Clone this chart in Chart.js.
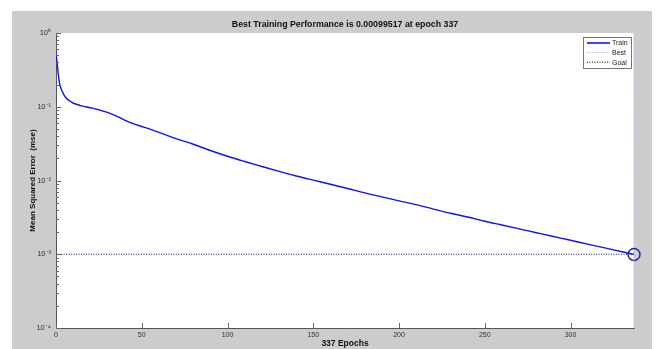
<!DOCTYPE html>
<html><head><meta charset="utf-8">
<script src="https://cdn.jsdelivr.net/npm/chart.js@4.4.1/dist/chart.umd.min.js"></script>
<style>
html,body{margin:0;padding:0;background:#fff;width:668px;height:349px;overflow:hidden}
#panel{position:absolute;left:12px;top:11px;width:640px;height:338px;background:#cccccc}
#c{position:absolute;left:0;top:0}
</style></head>
<body>
<div id="panel"><canvas id="c" width="640" height="338"></canvas></div>
<script>
// ---- data ----
const epochs = [0,1,2,3,4,5,6,8,10,12,15,20,25,30,35,40,45,50,60,70,80,90,100,110,120,130,140,150,160,170,180,190,200,210,220,230,240,250,260,270,280,290,300,310,320,330,337];
const mse    = [0.52,0.33,0.21,0.175,0.155,0.14,0.13,0.12,0.112,0.108,0.103,0.097,0.091,0.084,0.075,0.066,0.059,0.054,0.045,0.037,0.031,0.0255,0.0213,0.0181,0.0155,0.0133,0.0115,0.0101,0.0089,0.0078,0.0068,0.006,0.0053,0.0047,0.0041,0.0036,0.0032,0.0028,0.00249,0.00221,0.00196,0.00174,0.00155,0.00137,0.00122,0.00108,0.00099517];
const bestEpoch = 337;
const bestPerf = 0.00099517;
const goalValue = 0.001;
const xTickValues = [0,50,100,150,200,250,300];
const yMajorValues = [1e-4,1e-3,1e-2,1e-1,1];
const yTickLabels = ['10\u207B\u2074','10\u207B\u00B3','10\u207B\u00B2','10\u207B\u00B9','10\u2070'];
const titleText = 'Best Training Performance is 0.00099517 at epoch 337';
const xTitle = '337 Epochs';
const yTitle = 'Mean Squared Error  (mse)';
const seriesNames = ['Train','Best','Goal'];

const FONT = "'Liberation Sans', Arial, sans-serif";

function isMajor(v){ return yMajorValues.findIndex(m => Math.abs(v/m - 1) < 1e-6); }

const deco = {
  id:'deco',
  beforeDraw(chart){
    const {ctx, chartArea:a} = chart;
    ctx.save(); ctx.fillStyle='#fff'; ctx.fillRect(a.left,a.top,a.right-a.left,a.bottom-a.top); ctx.restore();
  },
  afterDraw(chart){
    const {ctx, chartArea:a, scales} = chart;
    ctx.save();
    // inward ticks
    ctx.strokeStyle='#666'; ctx.lineWidth=1;
    scales.y.ticks.forEach(t=>{
      const p = Math.round(scales.y.getPixelForValue(t.value))+0.5;
      const len = isMajor(t.value)>=0 ? 5 : 3;
      ctx.beginPath(); ctx.moveTo(a.left,p); ctx.lineTo(a.left+len,p); ctx.stroke();
    });
    scales.x.ticks.forEach(t=>{
      const p = Math.round(scales.x.getPixelForValue(t.value))+0.5;
      ctx.beginPath(); ctx.moveTo(p,a.bottom); ctx.lineTo(p,a.bottom-5); ctx.stroke();
    });
    // title
    ctx.fillStyle='#111'; ctx.font='bold 8.8px '+FONT; ctx.textAlign='center'; ctx.textBaseline='middle';
    ctx.fillText(titleText,(a.left+a.right)/2,13.5);
    // legend
    const w=48,h=31, x0=a.right-3-w, y0=a.top+4;
    ctx.fillStyle='#fff'; ctx.fillRect(x0,y0,w,h);
    ctx.strokeStyle='#777'; ctx.lineWidth=1; ctx.strokeRect(x0+0.5,y0+0.5,w,h);
    const styles=[{c:'#0000ff',d:[],lw:1.5},{c:'#9a9aff',d:[1,1.5],lw:1},{c:'#000',d:[1,1.5],lw:1}];
    ctx.font='7px '+FONT; ctx.textAlign='left'; ctx.textBaseline='middle';
    seriesNames.forEach((n,i)=>{
      const yy = y0+6+i*9.6;
      ctx.strokeStyle=styles[i].c; ctx.lineWidth=styles[i].lw; ctx.setLineDash(styles[i].d);
      ctx.beginPath(); ctx.moveTo(x0+4,yy); ctx.lineTo(x0+27,yy); ctx.stroke();
      ctx.setLineDash([]);
      ctx.fillStyle='#222'; ctx.fillText(n,x0+29,yy+0.5);
    });
    ctx.restore();
  }
};

new Chart(document.getElementById('c'), {
  type:'line',
  data:{ datasets:[
    { label:seriesNames[0], data:epochs.map((e,i)=>({x:e,y:mse[i]})), borderColor:'#1010ff', borderWidth:1.4, pointRadius:0, tension:0, cubicInterpolationMode:'monotone' },
    { label:seriesNames[1], data:[{x:bestEpoch,y:1e-4},{x:bestEpoch,y:1}], borderColor:'#9a9aff', borderWidth:1, borderDash:[1,1.5], pointRadius:0, clip:false },
    { label:seriesNames[2], data:[{x:0,y:goalValue},{x:bestEpoch,y:goalValue}], borderColor:'#14146e', borderWidth:1, borderDash:[1,1.5], pointRadius:0 },
    { label:'best point', data:[{x:bestEpoch,y:bestPerf}], showLine:false, pointRadius:6, pointBorderWidth:1.5, pointBorderColor:'#2a2aa0', pointBackgroundColor:'rgba(0,0,0,0)', clip:false }
  ]},
  options:{
    responsive:false, animation:false, events:[],
    layout:{ padding:{ top:22, right:18, left:0, bottom:0 } },
    plugins:{ legend:{display:false}, title:{display:false}, tooltip:{enabled:false} },
    scales:{
      x:{ type:'linear', min:0, max:bestEpoch,
        afterBuildTicks:s=>{ s.ticks = xTickValues.map(v=>({value:v})); },
        afterFit:s=>{ s.height=21; },
        grid:{ display:true, drawOnChartArea:false, drawTicks:false },
        border:{ display:true, color:'#555', width:1 },
        ticks:{ autoSkip:false, maxRotation:0, padding:3, color:'#333', font:{family:FONT,size:7} },
        title:{ display:true, text:xTitle, color:'#111', padding:{top:0,bottom:0}, font:{family:FONT,size:8.5,weight:'bold'} }
      },
      y:{ type:'logarithmic', min:1e-4, max:1,
        afterBuildTicks:s=>{ const t=[]; for(let k=-4;k<0;k++){ for(let m=1;m<10;m++) t.push({value:m*Math.pow(10,k)}); } t.push({value:1}); s.ticks=t; },
        afterFit:s=>{ s.width=44; },
        grid:{ display:true, drawOnChartArea:false, drawTicks:false },
        border:{ display:true, color:'#555', width:1 },
        ticks:{ autoSkip:false, padding:5, color:'#333', font:{family:FONT,size:7.5},
          callback:(v)=>{ const i=isMajor(v); return i>=0 ? yTickLabels[i] : ''; } },
        title:{ display:true, text:yTitle, color:'#111', padding:{top:16,bottom:0}, font:{family:FONT,size:8,weight:'bold'} }
      }
    }
  },
  plugins:[deco]
});
</script>
</body></html>
